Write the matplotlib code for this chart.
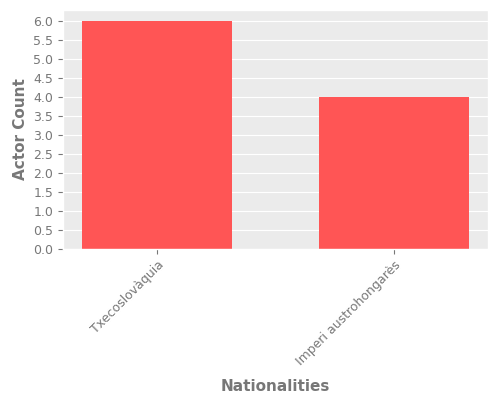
import matplotlib
matplotlib.use("Agg")
import matplotlib.pyplot as plt

categories = ["Txecoslovàquia", "Imperi austrohongarès"]
counts = [6, 4]

plt.style.use("ggplot")
fig, ax = plt.subplots(figsize=(5, 4), dpi=100)
ax.set_facecolor("#EBEBEB")
ax.bar(categories, counts, width=0.635, color="#FF5555")
ax.set_yticks([i * 0.5 for i in range(13)])
ax.set_yticklabels([f"{i*0.5:.1f}" for i in range(13)])
ax.tick_params(axis="both", labelsize=9, colors="#777777", labelcolor="#777777")
plt.setp(ax.get_xticklabels(), rotation=45, ha="right", va="top", rotation_mode="anchor")
ax.set_xlabel("Nationalities", fontsize=11, fontweight="bold", color="#777777", labelpad=8)
ax.set_ylabel("Actor Count", fontsize=11, fontweight="bold", color="#777777")
ax.grid(axis="x", visible=False)
fig.subplots_adjust(left=0.126, right=0.976, top=0.975, bottom=0.378)
fig.savefig("out.png", dpi=100)
